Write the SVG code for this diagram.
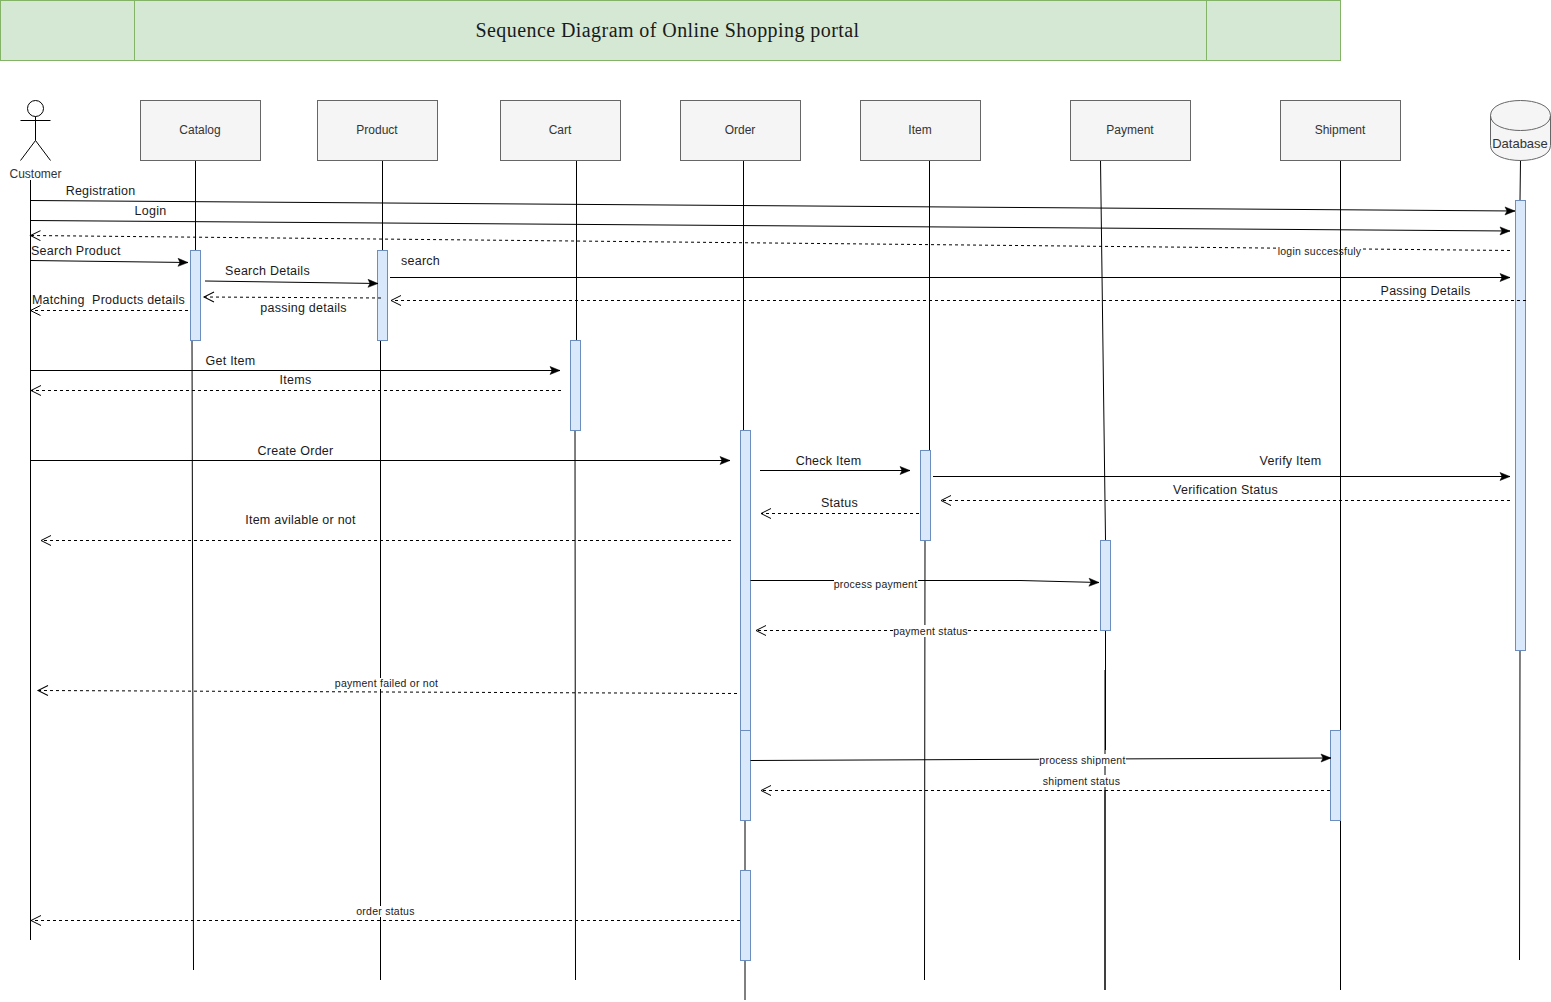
<svg xmlns="http://www.w3.org/2000/svg" width="1551" height="1002" viewBox="0 0 1551 1002">
<style>
text{font-family:"Liberation Sans",Arial,sans-serif;font-size:12.5px;letter-spacing:.25px;fill:#1a1a1a}
.c{text-anchor:middle}
.n{fill:#f5f5f5;stroke:#666;stroke-width:1}
text.nt{fill:#333;text-anchor:middle;font-size:12px;letter-spacing:0}
text.db{font-size:13px}
.a{fill:#dae8fc;stroke:#6c8ebf;stroke-width:1}
.l{fill:none;stroke:#000;stroke-width:1}
.s{marker-end:url(#fill)}
.d{stroke-dasharray:3 3;marker-end:url(#open)}
.t{fill:#d5e8d4;stroke:#82b366;stroke-width:1}
text.sm{font-size:10.5px}
.bg{fill:#fff}
</style>
<defs>
<marker id="fill" markerUnits="userSpaceOnUse" markerWidth="12" markerHeight="10" refX="10" refY="4" orient="auto" overflow="visible"><path d="M0 0L10 4L0 8L2 4Z" fill="#000" stroke="#000" stroke-width="0.5"/></marker>
<marker id="open" markerUnits="userSpaceOnUse" markerWidth="12" markerHeight="12" refX="10" refY="5" orient="auto" overflow="visible"><path d="M0 0L10 5L0 10" fill="none" stroke="#000" stroke-width="1"/></marker>
</defs>
<g id="title">
<rect class="t" x="0.500" y="0.500" width="1340" height="60"/>
<path d="M134.500 0.500V60.500M1206.500 0.500V60.500" fill="none" stroke="#82b366"/>
<text x="667.500" y="36.500" class="c" style="font-family:'Liberation Serif',serif;font-size:20px;letter-spacing:.43px">Sequence Diagram of Online Shopping portal</text>
</g>
<g id="lifelines" class="l">
<path d="M30.500 180V940"/>
<path d="M195.500 160V250M192 340L193.500 970"/>
<path d="M382.500 160V250M380.500 340V980"/>
<path d="M576.500 160V340M575 430L575.500 980"/>
<path d="M743.500 160V430M745 820V870M745 960V1000"/>
<path d="M929.500 160V450M925 540L924.500 980"/>
<path d="M1100.500 160L1105.500 540M1105.500 630V750M1105 670V990M1105 790V990"/>
<path d="M1340.500 160V730M1340.500 820V990"/>
<path d="M1520.500 160L1520 200M1520 650L1519.500 960"/>
</g>
<g id="customer">
<circle cx="35.500" cy="108.500" r="8" fill="#fff" stroke="#000"/>
<path d="M35.500 116.500V140.500M20.500 120.500H50.500M35.500 140.500L20.500 160.500M35.500 140.500L50.500 160.500" class="l"/>
<text x="35.500" y="178" class="nt">Customer</text>
</g>
<g id="catalog"><rect class="n" x="140.500" y="100.500" width="120" height="60"/><text x="200" y="134" class="nt">Catalog</text></g>
<g id="product"><rect class="n" x="317.500" y="100.500" width="120" height="60"/><text x="377" y="134" class="nt">Product</text></g>
<g id="cart"><rect class="n" x="500.500" y="100.500" width="120" height="60"/><text x="560" y="134" class="nt">Cart</text></g>
<g id="order"><rect class="n" x="680.500" y="100.500" width="120" height="60"/><text x="740" y="134" class="nt">Order</text></g>
<g id="item"><rect class="n" x="860.500" y="100.500" width="120" height="60"/><text x="920" y="134" class="nt">Item</text></g>
<g id="payment"><rect class="n" x="1070.500" y="100.500" width="120" height="60"/><text x="1130" y="134" class="nt">Payment</text></g>
<g id="shipment"><rect class="n" x="1280.500" y="100.500" width="120" height="60"/><text x="1340" y="134" class="nt">Shipment</text></g>
<g id="database">
<path class="n" d="M1490.500 115.500C1490.500 95.500 1550.500 95.500 1550.500 115.500V145.500C1550.500 165.500 1490.500 165.500 1490.500 145.500Z"/>
<path d="M1490.500 115.500C1490.500 135.500 1550.500 135.500 1550.500 115.500" fill="none" stroke="#666"/>
<text x="1520" y="148" class="nt db">Database</text>
</g>
<g id="activations">
<rect class="a" x="190.500" y="250.500" width="10" height="90"/>
<rect class="a" x="377.500" y="250.500" width="10" height="90"/>
<rect class="a" x="570.500" y="340.500" width="10" height="90"/>
<rect class="a" x="740.500" y="430.500" width="10" height="300"/>
<rect class="a" x="740.500" y="730.500" width="10" height="90"/>
<rect class="a" x="740.500" y="870.500" width="10" height="90"/>
<rect class="a" x="920.500" y="450.500" width="10" height="90"/>
<rect class="a" x="1100.500" y="540.500" width="10" height="90"/>
<rect class="a" x="1330.500" y="730.500" width="10" height="90"/>
<rect class="a" x="1515.500" y="200.500" width="10" height="450"/>
</g>
<g id="connectors" class="l">
<path class="s" d="M30.500 200.500L1515 211"/>
<path class="s" d="M30.500 220.500L1510 231"/>
<path class="d" d="M1510 250.500L30.500 235.500"/>
<path class="s" d="M30.500 260.500L188 262.500"/>
<path class="s" d="M205 281L378 283.500"/>
<path class="d" d="M381 298L204 297"/>
<path class="d" d="M188 310.500H30.500"/>
<path class="s" d="M390 277.500H1510"/>
<path class="d" d="M1526 300.500H391"/>
<path class="s" d="M30.500 370.500H560"/>
<path class="d" d="M561 390.500H31"/>
<path class="s" d="M30.500 460.500H730"/>
<path class="s" d="M760 470.500H910"/>
<path class="s" d="M933 476.500H1510"/>
<path class="d" d="M1510 500.500H941"/>
<path class="d" d="M919 513.500H761"/>
<path class="d" d="M731 540.500H41"/>
<path class="s" d="M750.500 580.500H1020L1099 582.500"/>
<path class="d" d="M1097 630.500H756"/>
<path class="d" d="M737 693.500L38 690.500"/>
<path class="s" d="M750.500 760.500L1331 758"/>
<path class="d" d="M1330 790.500H761"/>
<path class="d" d="M740 920.500H31"/>
</g>
<g id="labels">
<text x="100.500" y="195" class="c">Registration</text>
<text x="150.500" y="215" class="c">Login</text>
<text x="31" y="255">Search Product</text>
<text x="267.500" y="275" class="c">Search Details</text>
<text x="108.500" y="304" class="c" xml:space="preserve">Matching  Products details</text>
<text x="303.500" y="312" class="c">passing details</text>
<text x="420.500" y="265" class="c">search</text>
<text x="1425.500" y="295" class="c">Passing Details</text>
<rect class="bg" x="1277" y="246" width="85" height="11"/>
<path d="M1340.500 246V257" class="l"/>
<text x="1319.500" y="255" class="c sm">login successfuly</text>
<text x="230.500" y="365" class="c">Get Item</text>
<text x="295.500" y="384" class="c">Items</text>
<text x="295.500" y="455" class="c">Create Order</text>
<text x="828.500" y="465" class="c">Check Item</text>
<text x="1290.500" y="465" class="c">Verify Item</text>
<text x="1225.500" y="494" class="c">Verification Status</text>
<text x="839.500" y="507" class="c">Status</text>
<text x="300.500" y="524" class="c">Item avilable or not</text>
<rect class="bg" x="834" y="578" width="84" height="12"/>
<text x="875.500" y="588" class="c sm">process payment</text>
<rect class="bg" x="893" y="625" width="75" height="12"/>
<text x="930.500" y="635" class="c sm">payment status</text>
<rect class="bg" x="335" y="678" width="103" height="11"/>
<text x="386.500" y="687" class="c sm">payment failed or not</text>
<rect class="bg" x="1039" y="754" width="87" height="12"/>
<text x="1082.500" y="764" class="c sm">process shipment</text>
<rect class="bg" x="1043" y="775" width="77" height="12"/>
<text x="1081.500" y="785" class="c sm">shipment status</text>
<rect class="bg" x="357" y="906" width="58" height="11"/>
<text x="385.500" y="915" class="c sm">order status</text>
</g>
</svg>
